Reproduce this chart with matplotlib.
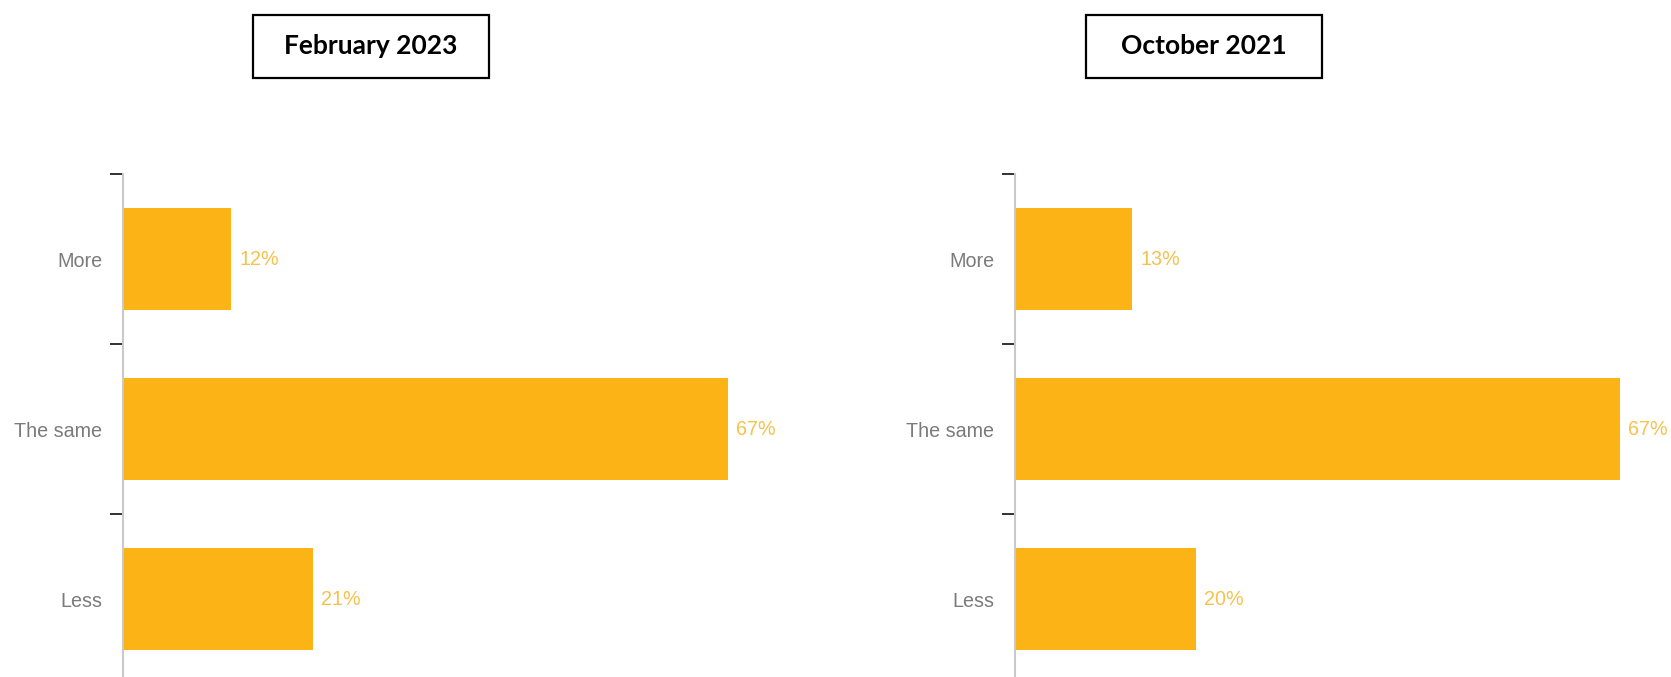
import matplotlib
matplotlib.use("Agg")
import matplotlib.pyplot as plt
from matplotlib.patches import Rectangle

categories = ["More", "The same", "Less"]
panel_titles = ["February 2023", "October 2021"]
values_feb_2023 = [12, 67, 21]
values_oct_2021 = [13, 67, 20]

BAR = "#FCB316"
VALUE_TXT = "#F5C24C"
CAT_TXT = "#7B7B7B"
AXIS_GRAY = "#C9C9C9"

label_family = ["Liberation Sans", "DejaVu Sans"]

W, H = 1671, 677
fig = plt.figure(figsize=(W / 100, H / 100), dpi=100)

def px_axes(left, top, width, height):
    return fig.add_axes([left / W, 1 - (top + height) / H, width / W, height / H])

def draw_panel(ax, values):
    y = list(range(len(categories)))
    ax.barh(y, values, height=0.6, color=BAR, edgecolor="none", zorder=2)
    ax.set_xlim(0, 70)
    ax.set_ylim(len(categories) - 0.5, -0.5)
    for s in ["top", "right", "bottom"]:
        ax.spines[s].set_visible(False)
    ax.spines["left"].set_color(AXIS_GRAY)
    ax.spines["left"].set_linewidth(1.5)
    ax.set_xticks([])
    # boundary ticks between categories
    ax.set_yticks([i - 0.5 for i in range(len(categories) + 1)])
    ax.set_yticklabels([])
    ax.tick_params(axis="y", which="major", length=9.5, width=1.3, color="#222222")
    # category names at band centres
    ax.set_yticks(y, minor=True)
    ax.set_yticklabels(categories, minor=True, fontsize=14.2, color=CAT_TXT,
                       family=label_family)
    ax.tick_params(axis="y", which="minor", length=0, pad=15)
    for yi, v in zip(y, values):
        ax.text(v + 0.9, yi, f"{v}%", va="center", ha="left", fontsize=14.2,
                color=VALUE_TXT, family=label_family, clip_on=False)

ax1 = px_axes(123, 174, 632, 510)
ax2 = px_axes(1015, 174, 632, 510)
draw_panel(ax1, values_feb_2023)
draw_panel(ax2, values_oct_2021)

# title boxes above each panel
for cx, title in zip([371, 1204], panel_titles):
    bw, bh = 236, 63
    fig.patches.append(Rectangle(((cx - bw / 2) / W, 1 - (15 + bh) / H), bw / W, bh / H,
                                 transform=fig.transFigure, fill=False,
                                 edgecolor="black", linewidth=1.6))
    fig.text(cx / W, 1 - 54.5 / H, title, ha="center", va="baseline", fontsize=19,
             fontweight="bold", family=["Lato", "DejaVu Sans"], color="black")

fig.savefig("out.png", dpi=100, facecolor="white")
